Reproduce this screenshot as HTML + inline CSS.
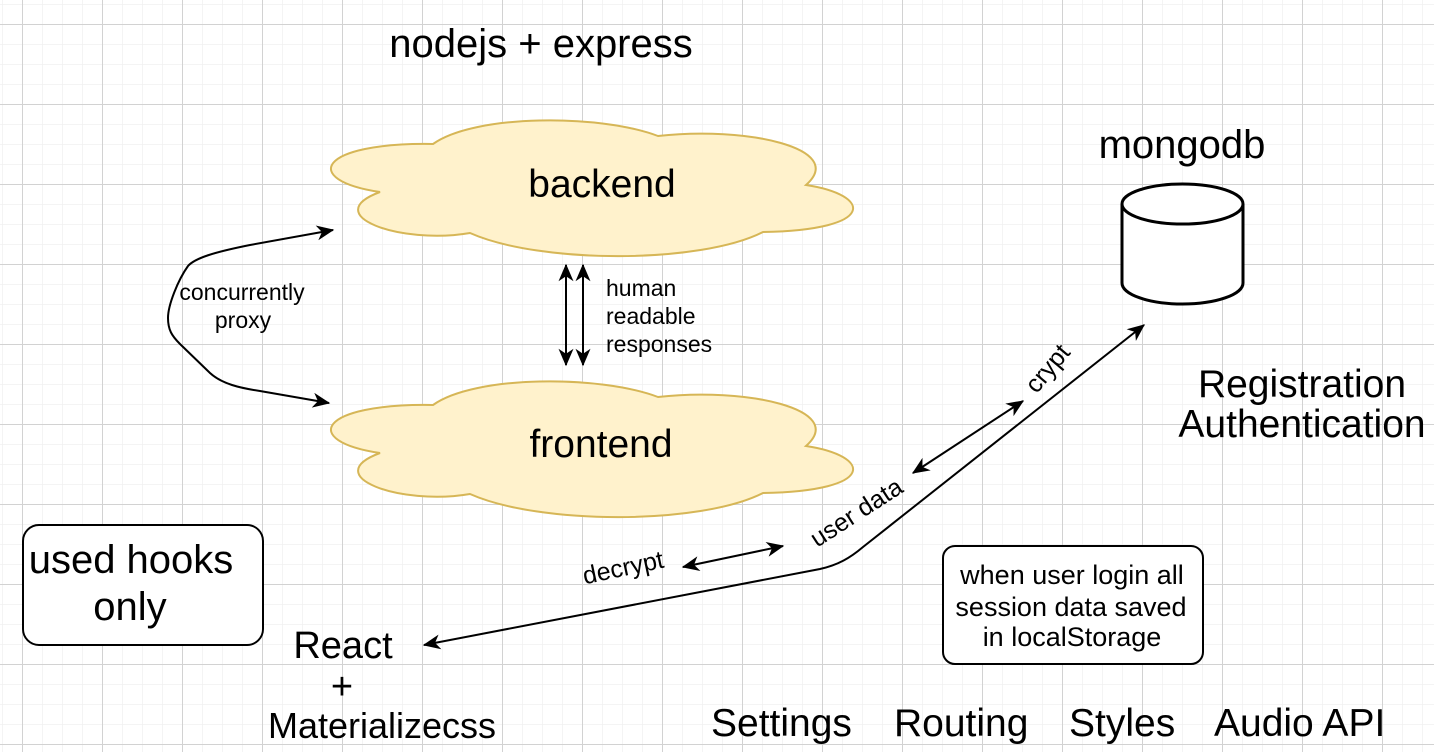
<!DOCTYPE html>
<html><head><meta charset="utf-8"><style>
html,body{margin:0;padding:0;background:#fff;}
svg{display:block;}
text{font-family:"Liberation Sans",Arial,sans-serif;fill:#000;}
</style></head><body>
<svg width="1434" height="752" viewBox="0 0 1434 752" xmlns="http://www.w3.org/2000/svg">
<defs>
<pattern id="minor" x="2" y="4" width="20" height="20" patternUnits="userSpaceOnUse">
<path d="M0,0 V20 M0,0 H20" stroke="#f0f0f0" stroke-width="1.5" fill="none"/>
</pattern>
<pattern id="major" x="22" y="24" width="80" height="80" patternUnits="userSpaceOnUse">
<path d="M0.5,0 V80 M0,0.5 H80" stroke="#d2d2d2" stroke-width="1" fill="none"/>
</pattern>
<marker id="ah" viewBox="0 0 14 12" refX="13" refY="6" markerWidth="18" markerHeight="15" markerUnits="userSpaceOnUse" orient="auto-start-reverse">
<path d="M0,0 L14,6 L0,12 L4,6 z" fill="#000"/>
</marker>
</defs>
<rect width="1434" height="752" fill="url(#minor)"/>
<rect width="1434" height="752" fill="url(#major)"/>

<path d="M433,144 C475,114 600,114 658,136 C745,126 848,148 806,185 C872,195 878,230 763,232 C700,264 540,264 470,233 C400,245 318,215 380,192 C300,180 318,142 433,144 Z" fill="#fff2cc" stroke="#d6b656" stroke-width="2"/>
<path d="M433,144 C475,114 600,114 658,136 C745,126 848,148 806,185 C872,195 878,230 763,232 C700,264 540,264 470,233 C400,245 318,215 380,192 C300,180 318,142 433,144 Z" transform="translate(0,261)" fill="#fff2cc" stroke="#d6b656" stroke-width="2"/>

<text x="541" y="57" font-size="40" text-anchor="middle">nodejs + express</text>
<text x="602" y="197" font-size="39" text-anchor="middle">backend</text>
<text x="601" y="457" font-size="39" text-anchor="middle">frontend</text>

<line x1="566" y1="265" x2="566" y2="365" stroke="#000" stroke-width="2" marker-start="url(#ah)" marker-end="url(#ah)"/>
<line x1="583" y1="265" x2="583" y2="365" stroke="#000" stroke-width="2" marker-start="url(#ah)" marker-end="url(#ah)"/>
<text x="606" y="296" font-size="23">human</text>
<text x="606" y="324" font-size="23">readable</text>
<text x="606" y="352" font-size="23">responses</text>

<path d="M333,230 L250,245 C215,252 195,258 188,266 C178,280 168,305 168,318 C168,330 172,336 180,344 L210,373 C222,384 240,388 260,391 L329,403" fill="none" stroke="#000" stroke-width="2" marker-start="url(#ah)" marker-end="url(#ah)"/>
<text x="242" y="300" font-size="23" text-anchor="middle">concurrently</text>
<text x="243" y="328" font-size="23" text-anchor="middle">proxy</text>

<text x="1182" y="158" font-size="40" text-anchor="middle">mongodb</text>
<path d="M1122,204 V283 A60.5,21 0 0 0 1243,283 V204" fill="#fff" stroke="#000" stroke-width="3"/>
<ellipse cx="1182.5" cy="204" rx="60.5" ry="20" fill="#fff" stroke="#000" stroke-width="3"/>
<text x="1302" y="397" font-size="39" text-anchor="middle">Registration</text>
<text x="1302" y="437" font-size="39" text-anchor="middle">Authentication</text>

<path d="M424,645 L820,569 C838,565 850,558 863,547 L1144,325" fill="none" stroke="#000" stroke-width="2" marker-start="url(#ah)" marker-end="url(#ah)"/>
<line x1="913" y1="473" x2="1023" y2="401" stroke="#000" stroke-width="2" marker-start="url(#ah)" marker-end="url(#ah)"/>
<line x1="683" y1="567" x2="783" y2="546" stroke="#000" stroke-width="2" marker-start="url(#ah)" marker-end="url(#ah)"/>
<text x="1047" y="377" font-size="25" text-anchor="middle" transform="rotate(-50 1047 368)">crypt</text>
<text x="856" y="521" font-size="25" text-anchor="middle" transform="rotate(-33 856 512)">user data</text>
<text x="623" y="576" font-size="25" text-anchor="middle" transform="rotate(-12 623 567)">decrypt</text>

<rect x="23" y="525" width="240" height="120" rx="16" fill="#fff" stroke="#000" stroke-width="2"/>
<text x="131" y="573" font-size="40" text-anchor="middle">used hooks</text>
<text x="130" y="620" font-size="40" text-anchor="middle">only</text>

<text x="343" y="658" font-size="38" text-anchor="middle">React</text>
<text x="342" y="699" font-size="38" text-anchor="middle">+</text>
<text x="382" y="738" font-size="36" text-anchor="middle">Materializecss</text>

<rect x="943" y="546" width="260" height="118" rx="12" fill="#fff" stroke="#000" stroke-width="2"/>
<text x="1072" y="584" font-size="27" text-anchor="middle">when user login all</text>
<text x="1071" y="616" font-size="27" text-anchor="middle">session data saved</text>
<text x="1072" y="646" font-size="27" text-anchor="middle">in localStorage</text>

<text x="711" y="736" font-size="39">Settings</text>
<text x="894" y="736" font-size="39">Routing</text>
<text x="1069" y="736" font-size="39">Styles</text>
<text x="1214" y="736" font-size="39">Audio API</text>
</svg>
</body></html>
